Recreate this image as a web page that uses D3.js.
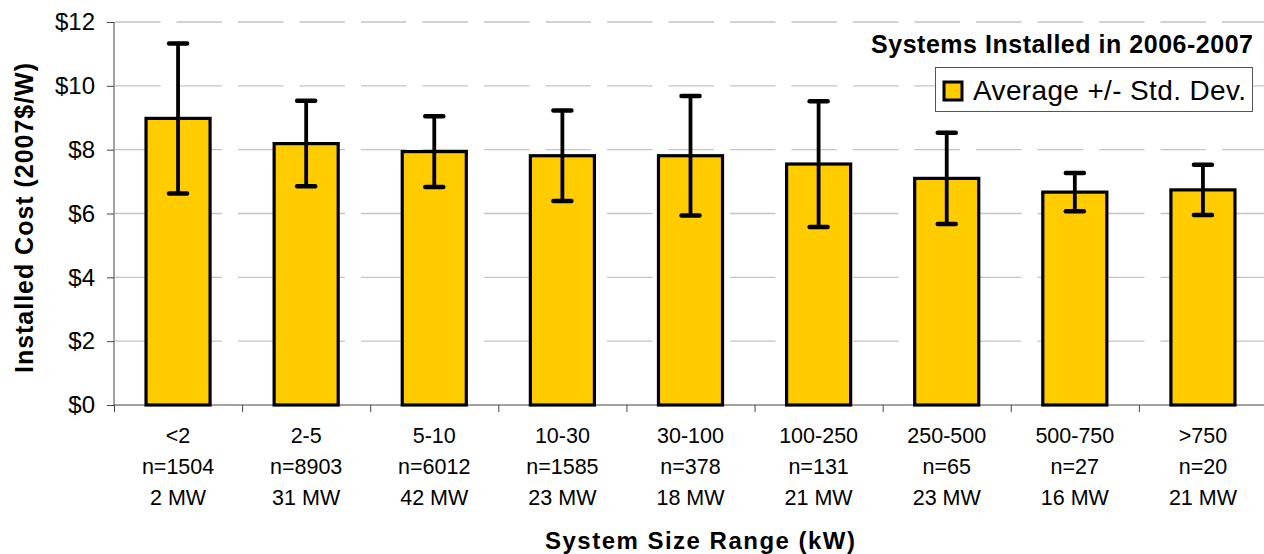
<!DOCTYPE html>
<html>
<head>
<meta charset="utf-8">
<script src="https://cdn.jsdelivr.net/npm/d3@7"></script>
<style>
  body { margin: 0; background: #fff; }
  svg { display: block; font-family: "Liberation Sans", Arial, sans-serif; }
</style>
</head>
<body>
<svg width="1264" height="554"></svg>
<script>
// size ranges (kW) and what sits under each bar
const sizeRanges = ["<2", "2-5", "5-10", "10-30", "30-100", "100-250", "250-500", "500-750", ">750"];
const counts = ["n=1504", "n=8903", "n=6012", "n=1585", "n=378", "n=131", "n=65", "n=27", "n=20"];
const capacity = ["2 MW", "31 MW", "42 MW", "23 MW", "18 MW", "21 MW", "23 MW", "16 MW", "21 MW"];

// average installed cost and std. dev. (2007$/W)
const avgCost = [8.98, 8.19, 7.94, 7.81, 7.81, 7.55, 7.10, 6.67, 6.74];
const stdDev = [2.35, 1.34, 1.11, 1.42, 1.87, 1.97, 1.43, 0.60, 0.79];

const yTicks = [0, 2, 4, 6, 8, 10, 12];

const font = "'Liberation Sans', Arial, sans-serif";
const svg = d3.select("svg");

const x = d3
  .scaleBand()
  .domain(sizeRanges)
  .range([114, 1267])
  .padding(0);

const y = d3
  .scaleLinear()
  .domain([0, 12])
  .range([405, 22]);

// dashed grid lines
svg.append("g")
  .selectAll("line")
  .data(yTicks.filter((d) => d > 0))
  .enter()
  .append("line")
  .attr("x1", 115)
  .attr("x2", 1267)
  .attr("y1", (d) => y(d))
  .attr("y2", (d) => y(d))
  .attr("stroke", "#c4c4c4")
  .attr("stroke-width", 1.3)
  .attr("stroke-dasharray", "45.5 16");

// y axis
const yAxis = svg.append("g")
  .attr("transform", "translate(114,0)")
  .call(d3.axisLeft(y).tickValues(yTicks).tickSize(7).tickPadding(12).tickFormat((d) => "$" + d));
yAxis.select(".domain").attr("stroke", "#444").attr("d", "M0," + y(12) + "V" + y(0));
yAxis.selectAll(".tick line").attr("stroke", "#444");
yAxis.selectAll(".tick text")
  .attr("font-size", 24)
  .attr("fill", "#000")
  .attr("font-family", font);

// x axis line and boundary ticks
svg.append("line")
  .attr("x1", 114).attr("x2", 1267)
  .attr("y1", y(0)).attr("y2", y(0))
  .attr("stroke", "#444");

svg.append("g")
  .selectAll("line")
  .data(sizeRanges)
  .enter()
  .append("line")
  .attr("x1", (d) => x(d) + 0.5)
  .attr("x2", (d) => x(d) + 0.5)
  .attr("y1", y(0))
  .attr("y2", y(0) + 7)
  .attr("stroke", "#444");

// bars
const barW = x.bandwidth() * 0.5;
svg.append("g")
  .selectAll("rect")
  .data(avgCost)
  .enter()
  .append("rect")
  .attr("x", (d, i) => x(sizeRanges[i]) + (x.bandwidth() - barW) / 2)
  .attr("y", (d) => y(d))
  .attr("width", barW)
  .attr("height", (d) => y(0) - y(d))
  .attr("fill", "#ffcc00")
  .attr("stroke", "#000")
  .attr("stroke-width", 3.2);

// error bars
const err = svg.append("g")
  .attr("stroke", "#000")
  .attr("stroke-linecap", "round");
const cx = (i) => x(sizeRanges[i]) + x.bandwidth() / 2;

err.selectAll(".stem")
  .data(avgCost)
  .enter()
  .append("line")
  .attr("x1", (d, i) => cx(i))
  .attr("x2", (d, i) => cx(i))
  .attr("y1", (d, i) => y(d + stdDev[i]))
  .attr("y2", (d, i) => y(d - stdDev[i]))
  .attr("stroke-width", 3.8);

err.selectAll(".capTop")
  .data(avgCost)
  .enter()
  .append("line")
  .attr("x1", (d, i) => cx(i) - 9)
  .attr("x2", (d, i) => cx(i) + 9)
  .attr("y1", (d, i) => y(d + stdDev[i]))
  .attr("y2", (d, i) => y(d + stdDev[i]))
  .attr("stroke-width", 4.5);

err.selectAll(".capBottom")
  .data(avgCost)
  .enter()
  .append("line")
  .attr("x1", (d, i) => cx(i) - 9)
  .attr("x2", (d, i) => cx(i) + 9)
  .attr("y1", (d, i) => y(d - stdDev[i]))
  .attr("y2", (d, i) => y(d - stdDev[i]))
  .attr("stroke-width", 4.5);

// category labels, three lines each
const labels = svg.append("g")
  .attr("font-size", 21.5)
  .attr("font-family", font)
  .attr("text-anchor", "middle")
  .attr("fill", "#000");

[sizeRanges, counts, capacity].forEach((rows, r) => {
  labels.selectAll(".row" + r)
    .data(rows)
    .enter()
    .append("text")
    .attr("x", (d, i) => cx(i))
    .attr("y", 443 + r * 31)
    .text((d) => d);
});

// axis titles
svg.append("text")
  .attr("x", 700)
  .attr("y", 549)
  .attr("text-anchor", "middle")
  .attr("font-family", font)
  .attr("font-size", 24)
  .attr("font-weight", "bold")
  .attr("textLength", 310)
  .attr("lengthAdjust", "spacing")
  .text("System Size Range (kW)");

svg.append("text")
  .attr("transform", "translate(33,218) rotate(-90)")
  .attr("text-anchor", "middle")
  .attr("font-family", font)
  .attr("font-size", 25)
  .attr("font-weight", "bold")
  .attr("textLength", 310)
  .attr("lengthAdjust", "spacing")
  .text("Installed Cost (2007$/W)");

// legend
svg.append("text")
  .attr("x", 1253)
  .attr("y", 53)
  .attr("text-anchor", "end")
  .attr("font-family", font)
  .attr("font-size", 25)
  .attr("font-weight", "bold")
  .attr("textLength", 382)
  .attr("lengthAdjust", "spacing")
  .text("Systems Installed in 2006-2007");

svg.append("rect")
  .attr("x", 935.5)
  .attr("y", 67.5)
  .attr("width", 317)
  .attr("height", 44)
  .attr("fill", "#fff")
  .attr("stroke", "#555")
  .attr("stroke-width", 1);

svg.append("rect")
  .attr("x", 944)
  .attr("y", 82)
  .attr("width", 18)
  .attr("height", 18)
  .attr("fill", "#ffcc00")
  .attr("stroke", "#000")
  .attr("stroke-width", 3);

svg.append("text")
  .attr("x", 973)
  .attr("y", 100)
  .attr("font-family", font)
  .attr("font-size", 28)
  .attr("textLength", 273)
  .attr("lengthAdjust", "spacing")
  .text("Average +/- Std. Dev.");
</script>
</body>
</html>
